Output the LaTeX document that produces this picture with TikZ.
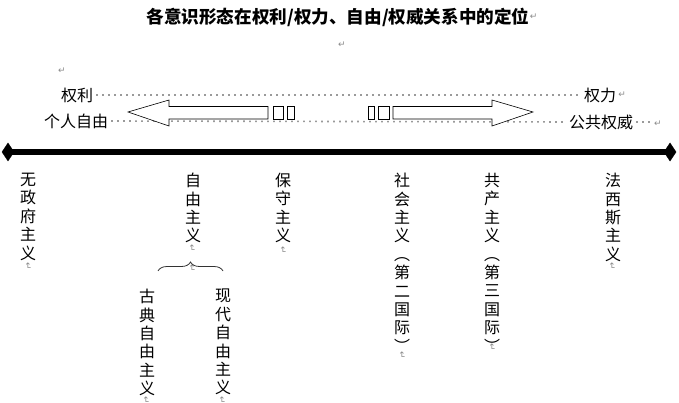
\documentclass[tikz,border=0pt]{standalone}
\usepackage{fontspec}
\setmainfont{Noto Sans CJK SC}
\newfontfamily\marksfont{DejaVu Sans}
\usetikzlibrary{decorations.pathreplacing}
\definecolor{markgray}{HTML}{8A8A8A}
\definecolor{dotgray}{HTML}{9A9A9A}
\tikzset{
  lbl/.style={inner sep=0pt, font=\fontsize{16}{18}\selectfont},
  vtext/.style={inner sep=0pt, align=center, anchor=north, font=\fontsize{16}{18.4}\selectfont},
  pmark/.style={inner sep=0pt, text=markgray, font=\marksfont\fontsize{9}{9}\selectfont},
  vmark/.style={pmark, rotate=-90},
  dotline/.style={draw=dotgray, line width=1.6pt, dash pattern=on 1.6pt off 4.4pt},
  bigarrow/.style={draw=black, line width=0.6pt, fill=white},
  gbox/.style={draw=black, line width=0.6pt, fill=white},
  axis/.style={line width=6pt, draw=black},
  endmark/.style={fill=black, draw=black},
}
\begin{document}
\begin{tikzpicture}[x=1pt,y=-1pt]
\useasboundingbox (0,0) rectangle (679,403);
% title
\node[inner sep=0pt, font=\fontsize{17.6}{18}\selectfont\bfseries] (title) at (338,17) {各意识形态在权利/权力、自由/权威关系中的定位};
\node[pmark, anchor=west] (tm) at (title.east) {↵};
\node[pmark] (m1) at (342,45) {↵};
\node[pmark] (m2) at (62,71) {↵};
% top labels
\node[lbl] (quanli) at (77,95) {权利};
\node[lbl] (geren) at (76,121) {个人自由};
\node[lbl] (quanli2) at (600,95) {权力};
\node[lbl] (gonggong) at (601,122) {公共权威};
\node[pmark, anchor=west] (m3) at ([xshift=2pt]quanli2.east) {↵};
\coordinate (dend) at (652,122);
\node[pmark] (m4) at (658,124) {↵};
\draw[dotline] ([xshift=3pt]quanli.east) -- ([xshift=-2pt]quanli2.west);
\draw[dotline] ([xshift=3pt]geren.east) -- ([xshift=-2pt]gonggong.west);
\draw[dotline] ([xshift=3pt]gonggong.east) -- (dend);
% big arrows
\draw[bigarrow] (128,112) -- (169,100) -- (169,106.5) -- (268,106.5) -- (268,119) -- (169,119) -- (169,126) -- cycle;
\draw[gbox] (273,106.5) rectangle (283,119);
\draw[gbox] (287,106.5) rectangle (294,119);
\draw[bigarrow] (533,112) -- (492,100) -- (492,106.5) -- (393,106.5) -- (393,119) -- (492,119) -- (492,126) -- cycle;
\draw[gbox] (368,106.5) rectangle (374,119);
\draw[gbox] (378,106.5) rectangle (389,119);
% axis
\coordinate (axL) at (8,152);
\coordinate (axR) at (670,152);
\draw[axis] (axL) -- (axR);
\fill[endmark] (2,152) -- (8,143) -- (14,152) -- (8,161) -- cycle;
\fill[endmark] (664,152) -- (670,143) -- (676,152) -- (670,161) -- cycle;
% vertical labels
\node[vtext] (anarch) at (28,173) {无\\政\\府\\主\\义};
\node[vmark] (ma) at (28,266) {↵};
\node[vtext] (liberal) at (193,173) {自\\由\\主\\义};
\node[vmark] (ml) at (192,248) {↵};
\node[vmark] (ml2) at (192,268) {↵};
\node[vtext] (conserv) at (283,173) {保\\守\\主\\义};
\node[vmark] (mc) at (283,250) {↵};
\node[vtext] (social) at (402,173) {社\\会\\主\\义\\︵\\第\\二\\国\\际\\︶};
\node[vmark] (ms) at (402,355) {↵};
\node[vtext] (commun) at (492,173) {共\\产\\主\\义\\︵\\第\\三\\国\\际\\︶};
\node[vmark] (mco) at (492,347) {↵};
\node[vtext] (fasc) at (613,173) {法\\西\\斯\\主\\义};
\node[vmark] (mf) at (612,266) {↵};
% brace and sub-labels
\coordinate (brL) at (158,271);
\coordinate (brR) at (223,271);
\draw[decorate, decoration={brace, amplitude=9pt}, line width=0.8pt, draw=black!80] (brL) -- (brR);
\node[vtext] (classic) at (147,289) {古\\典\\自\\由\\主\\义};
\node[vmark] (mcl) at (146,400) {↵};
\node[vtext] (modern) at (223,289) {现\\代\\自\\由\\主\\义};
\node[vmark] (mmo) at (222,400) {↵};
\end{tikzpicture}
\end{document}
